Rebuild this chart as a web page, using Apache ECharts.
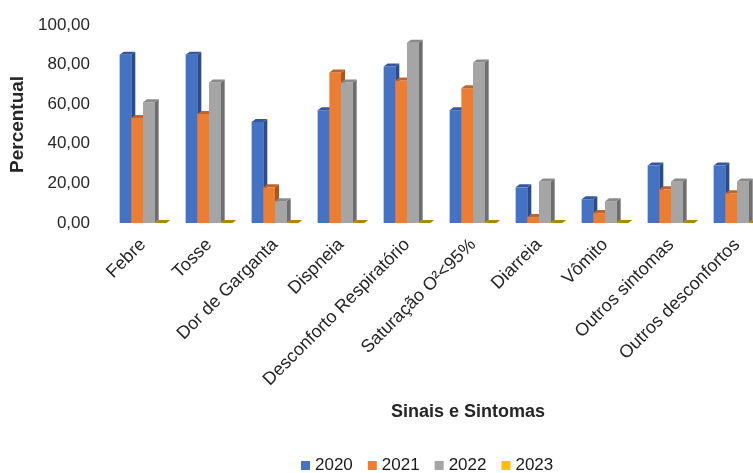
<!DOCTYPE html>
<html>
<head>
<meta charset="utf-8">
<script src="https://cdn.jsdelivr.net/npm/echarts@6/dist/echarts.min.js"></script>
<style>
  html, body { margin: 0; padding: 0; background: #fff; }
  #chart { width: 753px; height: 473px; }
</style>
</head>
<body>
<div id="chart"></div>
<script>
// Sintomas por ano (percentual)
const categories = ['Febre', 'Tosse', 'Dor de Garganta', 'Dispneia', 'Desconforto Respiratório',
  'Saturação O²<95%', 'Diarreia', 'Vômito', 'Outros sintomas', 'Outros desconfortos'];
const years = ['2020', '2021', '2022', '2023'];
const values2020 = [85, 85, 51, 57, 79, 57, 18, 12, 29, 29];
const values2021 = [53, 55, 18, 76, 72, 68, 3, 5, 17, 15];
const values2022 = [61, 71, 11, 71, 91, 81, 21, 11, 21, 21];
const values2023 = [0, 0, 0, 0, 0, 0, 0, 0, 0, 0];
const yTicks = [0, 20, 40, 60, 80, 100];

const seriesValues = [values2020, values2021, values2022, values2023];
const frontColors = ['#4472C4', '#ED7D31', '#A5A5A5', '#FFC000'];
const sideColors = ['#2B4C8C', '#A9561F', '#6E6E6E', '#B08600'];
const topColors = ['#34589E', '#C2642A', '#8A8A8A', '#C99A00'];

const DX = 4, DY = 3;

function makeRender(k) {
  return function (params, api) {
    const cat = api.value(0);
    const val = api.value(1);
    const base = api.coord([cat, 0]);
    const top = api.coord([cat, val]);
    const band = api.size([1, 0])[0];
    const bw = band * 0.177;
    const x0 = base[0] - 2 * bw + k * bw;
    const x1 = x0 + bw;
    const yb = base[1];
    const yt = top[1];
    const children = [];
    if (yb - yt > 0.5) {
      children.push({
        type: 'rect',
        shape: { x: x0, y: yt, width: bw, height: yb - yt },
        style: { fill: frontColors[k] }
      });
      children.push({
        type: 'polygon',
        shape: { points: [[x1, yt], [x1 + DX, yt - DY], [x1 + DX, yb - DY], [x1, yb]] },
        style: { fill: sideColors[k] }
      });
    }
    children.push({
      type: 'polygon',
      shape: { points: [[x0, yt], [x0 + DX, yt - DY], [x1 + DX, yt - DY], [x1, yt]] },
      style: { fill: yb - yt > 0.5 ? topColors[k] : sideColors[k] }
    });
    return { type: 'group', children: children };
  };
}

const chart = echarts.init(document.getElementById('chart'), null, { renderer: 'canvas' });
chart.setOption({
  animation: false,
  backgroundColor: '#ffffff',
  textStyle: { fontFamily: 'Liberation Sans, Arial, sans-serif' },
  grid: { left: 110, width: 660, top: 25, bottom: 250, containLabel: false, outerBoundsMode: 'none' },
  legend: {
    data: years,
    left: 296,
    top: 452,
    icon: 'rect',
    itemWidth: 9,
    itemHeight: 9,
    itemGap: 15,
    textStyle: { fontSize: 17, color: '#1a1a1a', fontFamily: 'Liberation Sans, Arial, sans-serif' }
  },
  xAxis: {
    type: 'category',
    data: categories,
    axisLine: { show: false },
    axisTick: { show: false },
    axisLabel: {
      rotate: 45,
      interval: 0,
      margin: 19,
      fontSize: 18,
      color: '#262626',
      fontFamily: 'Liberation Sans, Arial, sans-serif'
    }
  },
  yAxis: {
    type: 'value',
    min: yTicks[0],
    max: yTicks[yTicks.length - 1],
    interval: 20,
    splitLine: { show: false },
    axisLine: { show: false },
    axisTick: { show: false },
    axisLabel: {
      margin: 20,
      fontSize: 17,
      color: '#262626',
      fontFamily: 'Liberation Sans, Arial, sans-serif',
      formatter: v => v.toFixed(2).replace('.', ',')
    }
  },
  graphic: [
    {
      type: 'text',
      left: 391,
      top: 403,
      style: {
        text: 'Sinais e Sintomas',
        font: 'bold 18px "Liberation Sans", Arial, sans-serif',
        fill: '#262626'
      }
    },
    {
      type: 'text',
      x: 8,
      y: 173,
      rotation: Math.PI / 2,
      style: {
        text: 'Percentual',
        font: 'bold 19px "Liberation Sans", Arial, sans-serif',
        fill: '#262626'
      }
    }
  ],
  series: years.map((y, k) => ({
    name: y,
    type: 'custom',
    renderItem: makeRender(k),
    itemStyle: { color: frontColors[k] },
    encode: { x: 0, y: 1 },
    data: seriesValues[k].map((v, i) => [i, v])
  }))
});
</script>
</body>
</html>
